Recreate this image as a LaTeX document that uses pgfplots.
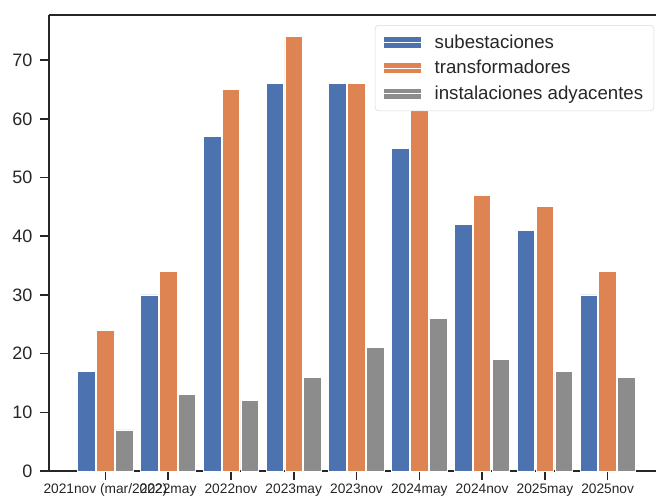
\documentclass[border=0pt]{standalone}
\usepackage{pgfplots}
\pgfplotsset{compat=1.18}
\usepackage{fontspec}
\setmainfont{Liberation Sans}
\definecolor{cblue}{HTML}{4C72B0}
\definecolor{corange}{HTML}{DD8452}
\definecolor{cgray}{HTML}{8C8C8C}
\definecolor{spine}{HTML}{262626}
\begin{document}
\begin{tikzpicture}[x=1pt,y=1pt]
\path[use as bounding box] (-36.75pt,-20.25pt) rectangle (455.25pt,353.25pt);
\begin{axis}[
  at={(0pt,0pt)}, anchor=south west,
  scale only axis, width=455.25pt, height=342pt,
  ybar,
  xmin=-0.898, xmax=8.77,
  ymin=0, ymax=77.7,
  xtick={0,...,8},
  xticklabels={2021nov (mar/2022),2022may,2022nov,2023may,2023nov,2024may,2024nov,2025may,2025nov},
  ytick={0,10,...,70},
  axis x line*=bottom, axis y line*=left,
  axis line style={draw=spine, line width=1.3pt},
  tick style={draw=spine, line width=1.2pt},
  tick align=outside, major tick length=7pt,
  /pgf/number format/assume math mode=true,
  x tick label style={font=\fontsize{10.3}{12}\selectfont, text=spine, yshift=1pt},
  y tick label style={font=\fontsize{13.5}{15}\selectfont, text=spine, xshift=-2pt},
  bar width=0.28,
  legend style={at={(0.997,0.978)}, anchor=north east, draw=black!15, rounded corners=2.5pt,
    font=\fontsize{14}{16}\selectfont, row sep=3.6pt, inner xsep=6pt, inner ysep=5pt,
    text=spine},
  legend cell align=left,
  legend image code/.code={\path[#1, draw=none, sharp corners] (0pt,-3.9pt) rectangle (27.75pt,3.9pt);
    \path (0pt,0pt) -- (36pt,0pt);},
  clip=false,
]
\addplot[bar shift=-0.3, fill=cblue, draw=white, line width=0.6pt] coordinates {(0,17) (1,30) (2,57) (3,66) (4,66) (5,55) (6,42) (7,41) (8,30)};
\addplot[bar shift=0, fill=corange, draw=white, line width=0.6pt] coordinates {(0,24) (1,34) (2,65) (3,74) (4,66) (5,63) (6,47) (7,45) (8,34)};
\addplot[bar shift=0.3, fill=cgray, draw=white, line width=0.6pt] coordinates {(0,7) (1,13) (2,12) (3,16) (4,21) (5,26) (6,19) (7,17) (8,16)};
\legend{subestaciones,transformadores,instalaciones adyacentes}
\draw[spine, line width=1.3pt] (rel axis cs:0,1) -- (rel axis cs:1,1);
\end{axis}
\end{tikzpicture}
\end{document}
